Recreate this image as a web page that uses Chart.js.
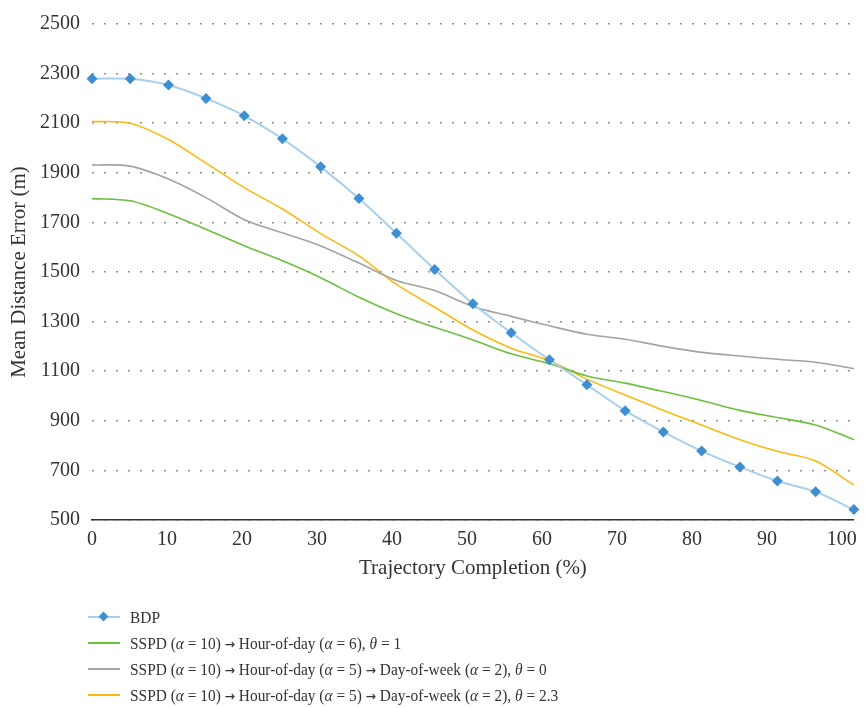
<!DOCTYPE html>
<html>
<head>
<meta charset="utf-8">
<script src="https://cdn.jsdelivr.net/npm/chart.js@4.4.1/dist/chart.umd.min.js"></script>
<style>
  html, body { margin: 0; padding: 0; background: #fff; }
  #wrap { position: relative; width: 865px; height: 708px; }
  #legend {
    position: absolute; left: 88px; top: 604px;
    font-family: "Liberation Serif", "DejaVu Serif", serif;
    font-size: 17.5px; color: #333;
  }
  .row { display: flex; align-items: center; height: 26px; white-space: nowrap; }
  .swatch { position: relative; width: 32px; height: 12px; margin-right: 10px; flex: none; }
  .swatch .ln { position: absolute; left: 0; right: 0; top: 5px; height: 2px; }
  .swatch .mk { position: absolute; left: 12px; top: 2px; width: 7px; height: 7px; transform: rotate(45deg); }
  .txt { display: inline-block; transform: scaleX(0.88); transform-origin: left center; }
  .arr { font-family: "DejaVu Sans", sans-serif; font-size: 0.8em; }
</style>
</head>
<body>
<div id="wrap">
  <canvas id="errChart" width="865" height="708"></canvas>
  <div id="legend"></div>
</div>
<script>
// trajectory completion (%) of each sample
const completion = [0, 5.1, 10.2, 15.2, 20.3, 25.4, 30.5, 35.6, 40.6, 45.7, 50.8, 55.9, 61.0, 66.0, 71.1, 76.2, 81.3, 86.4, 91.4, 96.5, 101.6];

const bdp = [2279, 2279, 2254, 2200, 2130, 2037, 1924, 1796, 1656, 1510, 1372, 1255, 1146, 1045, 941, 855, 778, 714, 657, 614, 542];
const hourDay6 = [1796, 1787, 1735, 1672, 1606, 1545, 1477, 1398, 1332, 1277, 1226, 1170, 1130, 1081, 1052, 1018, 982, 942, 913, 883, 824];
const hourDayWeekT0 = [1932, 1927, 1875, 1800, 1711, 1658, 1605, 1536, 1466, 1425, 1361, 1321, 1283, 1249, 1229, 1200, 1176, 1161, 1148, 1136, 1110];
const hourDayWeekT23 = [2107, 2100, 2034, 1939, 1840, 1754, 1655, 1565, 1450, 1358, 1266, 1193, 1142, 1068, 1004, 942, 883, 824, 777, 738, 641];

const seriesLabels = [
    'BDP',
    'SSPD (α = 10) → Hour-of-day (α = 6), θ = 1',
    'SSPD (α = 10) → Hour-of-day (α = 5) → Day-of-week (α = 2), θ = 0',
    'SSPD (α = 10) → Hour-of-day (α = 5) → Day-of-week (α = 2), θ = 2.3'
];
const yTicks = [500, 700, 900, 1100, 1300, 1500, 1700, 1900, 2100, 2300, 2500];

const seriesColors = ['#a8cfee', '#6cbf3f', '#a3a3a3', '#fdb813'];
const markerColor = '#3d8fd2';
const serif = '"Liberation Serif", "DejaVu Serif", serif';

function pts(values) {
    return values.map((v, i) => ({ x: completion[i], y: v }));
}

const allValues = [bdp, hourDay6, hourDayWeekT0, hourDayWeekT23];

const datasets = allValues.map((vals, i) => ({
    label: seriesLabels[i],
    data: pts(vals),
    borderColor: seriesColors[i],
    borderWidth: i === 0 ? 2 : 1.6,
    backgroundColor: i === 0 ? markerColor : seriesColors[i],
    pointStyle: 'rectRot',
    pointRadius: i === 0 ? 5.5 : 0,
    pointBorderWidth: 0,
    pointBackgroundColor: markerColor,
    tension: 0.3,
    clip: false,
    fill: false
}));
// draw BDP on top
datasets[0].order = -1;

const ctx = document.getElementById('errChart').getContext('2d');
const chart = new Chart(ctx, {
    type: 'line',
    data: { datasets: datasets },
    options: {
        responsive: false,
        animation: false,
        layout: { padding: { left: 0, top: 15, right: 8, bottom: 127 } },
        plugins: { legend: { display: false }, tooltip: { enabled: false } },
        scales: {
            x: {
                type: 'linear',
                min: 0,
                max: completion[completion.length - 1],
                grid: { display: false, drawTicks: false },
                border: { display: true, color: '#333', width: 1.5 },
                ticks: {
                    stepSize: 10,
                    includeBounds: false,
                    padding: 8,
                    maxRotation: 0,
                    color: '#333',
                    font: { family: serif, size: 20 }
                },
                title: {
                    display: true,
                    text: 'Trajectory Completion (%)',
                    color: '#333',
                    font: { family: serif, size: 21 },
                    padding: { top: 0, bottom: 0 }
                },
                afterFit: (s) => { s.height = 61; }
            },
            y: {
                min: 500,
                max: 2500,
                afterBuildTicks: (s) => { s.ticks = yTicks.map(v => ({ value: v })); },
                grid: { color: '#8f8f8f', lineWidth: 1.6, drawTicks: false },
                border: { display: false, dash: [2, 10] },
                ticks: {
                    padding: 12,
                    color: '#333',
                    font: { family: serif, size: 20 },
                    callback: (v) => String(v)
                },
                title: {
                    display: true,
                    text: 'Mean Distance Error (m)',
                    color: '#333',
                    font: { family: serif, size: 21 },
                    padding: { top: 7, bottom: 0 }
                },
                afterFit: (s) => { s.width = 92; }
            }
        }
    }
});

// legend with italic greek letters
const legend = document.getElementById('legend');
seriesLabels.forEach((label, i) => {
    const row = document.createElement('div');
    row.className = 'row';
    const sw = document.createElement('div');
    sw.className = 'swatch';
    sw.innerHTML = '<div class="ln" style="background:' + seriesColors[i] + '"></div>' +
        (i === 0 ? '<div class="mk" style="background:' + markerColor + '"></div>' : '');
    const txt = document.createElement('span');
    txt.className = 'txt';
    txt.innerHTML = label
        .replace(/([αθ])/g, '<i>$1</i>')
        .replace(/→/g, '<span class="arr">→</span>');
    row.appendChild(sw);
    row.appendChild(txt);
    legend.appendChild(row);
});
</script>
</body>
</html>
